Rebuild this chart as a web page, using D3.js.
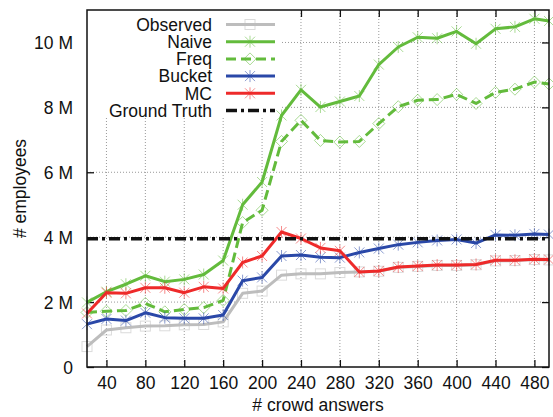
<!DOCTYPE html>
<html>
<head>
<meta charset="utf-8">
<script src="https://cdn.jsdelivr.net/npm/d3@7/dist/d3.min.js"></script>
<style>
  body { margin: 0; background: #fff; }
  svg text { font-family: "Liberation Sans", Arial, sans-serif; fill: #111; }
</style>
</head>
<body>
<div id="chart"></div>
<script>
// crowd answers (x) and estimates in millions of employees
var answers  = [20, 40, 60, 80, 100, 120, 140, 160, 180, 200, 220, 240, 260, 280, 300, 320, 340, 360, 380, 400, 420, 440, 460, 480, 495];
var observed = [0.63, 1.14, 1.21, 1.26, 1.27, 1.30, 1.31, 1.39, 2.27, 2.34, 2.83, 2.87, 2.87, 2.91, 2.93, 2.95, 3.07, 3.10, 3.13, 3.13, 3.15, 3.27, 3.28, 3.31, 3.30];
var naive    = [1.99, 2.32, 2.55, 2.81, 2.63, 2.70, 2.85, 3.28, 5.00, 5.70, 7.75, 8.54, 8.01, 8.18, 8.35, 9.32, 9.86, 10.16, 10.13, 10.34, 9.96, 10.42, 10.48, 10.73, 10.66];
var freq     = [1.68, 1.72, 1.74, 1.96, 1.70, 1.77, 1.83, 2.05, 4.45, 4.83, 6.95, 7.60, 6.98, 6.93, 6.95, 7.50, 8.02, 8.22, 8.24, 8.40, 8.12, 8.46, 8.56, 8.78, 8.72];
var bucket   = [1.32, 1.48, 1.43, 1.67, 1.52, 1.50, 1.50, 1.60, 2.66, 2.76, 3.42, 3.45, 3.38, 3.37, 3.53, 3.65, 3.77, 3.84, 3.90, 3.93, 3.82, 4.07, 4.06, 4.10, 4.08];
var mc       = [1.65, 2.29, 2.27, 2.44, 2.44, 2.29, 2.47, 2.42, 3.22, 3.42, 4.16, 3.96, 3.67, 3.58, 2.93, 2.96, 3.08, 3.11, 3.14, 3.14, 3.16, 3.29, 3.29, 3.32, 3.31];
var groundTruth = 3.95;

var xTicks = [40, 80, 120, 160, 200, 240, 280, 320, 360, 400, 440, 480];
var yTicks = [0, 2, 4, 6, 8, 10];
var yTickLabels = ["0", "2 M", "4 M", "6 M", "8 M", "10 M"];

var series = [
  { name: "Observed", values: observed, color: "#bdbdbd", dash: null, marker: "square" },
  { name: "Naive", values: naive, color: "#63bb3c", dash: null, marker: "star" },
  { name: "Freq", values: freq, color: "#63bb3c", dash: "10,5", marker: "diamond" },
  { name: "Bucket", values: bucket, color: "#2a48a8", dash: null, marker: "star" },
  { name: "MC", values: mc, color: "#ee2a2a", dash: null, marker: "star" }
];

var width = 553, height = 417;
var margin = { top: 10, right: 4, bottom: 50, left: 87 };
var plotW = width - margin.left - margin.right;
var plotH = height - margin.top - margin.bottom;

var x = d3.scaleLinear().domain([20, 495]).range([0, plotW]);
var y = d3.scaleLinear().domain([0, 11]).range([plotH, 0]);

var svg = d3.select("#chart").append("svg")
  .attr("width", width)
  .attr("height", height);

var g = svg.append("g").attr("transform", "translate(" + margin.left + "," + margin.top + ")");

// grid
var grid = g.append("g").attr("class", "grid");
grid.selectAll("line.vx").data(xTicks).enter().append("line")
  .attr("x1", function (d) { return x(d); })
  .attr("x2", function (d) { return x(d); })
  .attr("y1", 0).attr("y2", plotH)
  .attr("stroke", "#999").attr("stroke-width", 1).attr("stroke-dasharray", "1,2");
grid.selectAll("line.hy").data(yTicks.slice(1)).enter().append("line")
  .attr("x1", 0).attr("x2", plotW)
  .attr("y1", function (d) { return y(d); })
  .attr("y2", function (d) { return y(d); })
  .attr("stroke", "#999").attr("stroke-width", 1).attr("stroke-dasharray", "1,2");

// axes (ticks inside, mirrored)
var tickLen = 7;
var xAxis = d3.axisBottom(x).tickValues(xTicks).tickSize(-tickLen).tickPadding(10);
var yAxis = d3.axisLeft(y).tickValues(yTicks).tickSize(-tickLen).tickPadding(14)
  .tickFormat(function (d, i) { return yTickLabels[i]; });

var gx = g.append("g").attr("transform", "translate(0," + plotH + ")").call(xAxis);
var gy = g.append("g").call(yAxis);
g.append("g").call(d3.axisTop(x).tickValues(xTicks).tickSize(-tickLen).tickFormat(""));
g.append("g").attr("transform", "translate(" + plotW + ",0)")
  .call(d3.axisRight(y).tickValues(yTicks).tickSize(-tickLen).tickFormat(""));

svg.selectAll(".domain").remove();
svg.selectAll(".tick line").attr("stroke", "#111").attr("stroke-width", 1.3);
gx.selectAll("text").style("font-size", "17.5px").attr("fill", "#111");
gy.selectAll("text").style("font-size", "17.5px").attr("fill", "#111").attr("dy", "0.36em");

// legend backdrop hides grid behind it
g.append("rect").attr("x", 0).attr("y", 0).attr("width", 195).attr("height", 108).attr("fill", "#fff");

// series
var line = d3.line()
  .x(function (d, i) { return x(answers[i]); })
  .y(function (d) { return y(d); });

function drawMarker(sel, type, color, cx, cy) {
  var m = sel.append("g").attr("transform", "translate(" + cx + "," + cy + ")")
    .attr("stroke", color).attr("stroke-width", 1).attr("fill", "none").attr("opacity", 0.55);
  var r = 5;
  if (type === "square") {
    m.append("rect").attr("x", -r).attr("y", -r).attr("width", 2 * r).attr("height", 2 * r);
  } else if (type === "diamond") {
    m.append("path").attr("d", "M0," + (-r - 1) + "L" + (r + 1) + ",0L0," + (r + 1) + "L" + (-r - 1) + ",0Z");
  } else {
    m.append("path").attr("d",
      "M" + (-r) + "," + (-r) + "L" + r + "," + r +
      "M" + (-r) + "," + r + "L" + r + "," + (-r) +
      "M0," + (-r - 1) + "L0," + (r + 1));
  }
}

series.forEach(function (s) {
  var sg = g.append("g");
  sg.append("path").datum(s.values)
    .attr("d", line)
    .attr("fill", "none")
    .attr("stroke", s.color)
    .attr("stroke-width", 3)
    .attr("stroke-linejoin", "round")
    .attr("stroke-dasharray", s.dash);
  s.values.forEach(function (v, i) {
    drawMarker(sg, s.marker, s.color, x(answers[i]), y(v));
  });
});

// ground truth
g.append("line")
  .attr("x1", 0).attr("x2", plotW)
  .attr("y1", y(groundTruth)).attr("y2", y(groundTruth))
  .attr("stroke", "#111").attr("stroke-width", 3.5)
  .attr("stroke-dasharray", "11,4,3,4");

// legend
var legendItems = series.concat([{ name: "Ground Truth", color: "#111", dash: "11,4,3,4", marker: null, width: 3.5 }]);
var leg = g.append("g");
legendItems.forEach(function (s, i) {
  var ly = 14.5 + i * 17.2;
  leg.append("text").attr("x", 125).attr("y", ly).attr("dy", "0.36em")
    .attr("text-anchor", "end").style("font-size", "17.5px").text(s.name);
  leg.append("line").attr("x1", 139).attr("x2", 188).attr("y1", ly).attr("y2", ly)
    .attr("stroke", s.color).attr("stroke-width", s.width || 3)
    .attr("stroke-dasharray", s.dash);
  if (s.marker) drawMarker(leg, s.marker, s.color, 163, ly);
});

// frame
g.append("rect").attr("width", plotW).attr("height", plotH)
  .attr("fill", "none").attr("stroke", "#111").attr("stroke-width", 1.5);

// axis titles
svg.append("text").attr("x", 318).attr("y", 411)
  .attr("text-anchor", "middle").style("font-size", "17.5px").text("# crowd answers");
svg.append("text").attr("transform", "translate(26," + (margin.top + plotH / 2) + ") rotate(-90)")
  .attr("text-anchor", "middle").style("font-size", "17.5px").text("# employees");
</script>
</body>
</html>
